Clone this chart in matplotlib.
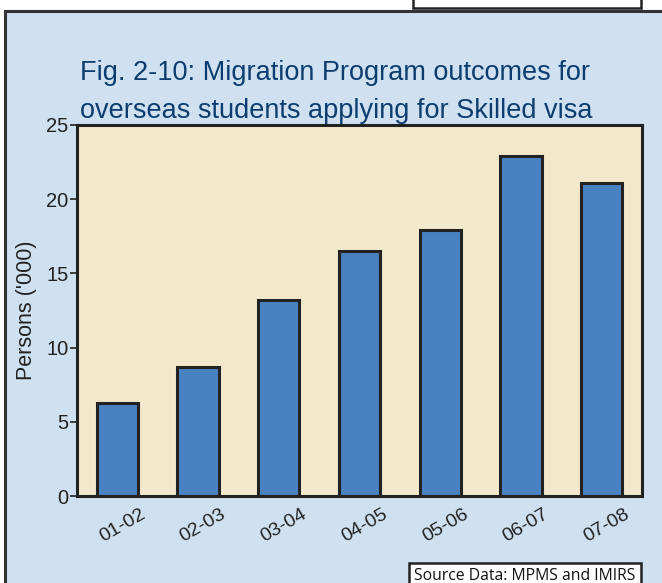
import matplotlib
matplotlib.use("Agg")
import matplotlib.pyplot as plt
import matplotlib.transforms as mtransforms
from matplotlib.patches import Rectangle

plt.rcParams["font.family"] = ["Liberation Sans", "DejaVu Sans"]

years = ["01-02", "02-03", "03-04", "04-05", "05-06", "06-07", "07-08"]
persons = [6.3, 8.7, 13.2, 16.5, 17.9, 22.9, 21.1]
y_ticks = [0, 5, 10, 15, 20, 25]

W, H = 662, 583
PANEL = "#cfe1f1"
PLOT_BG = "#f2e8cb"
BAR = "#4a81c1"
EDGE = "#222222"
TITLE = "#0d3d6e"

fig = plt.figure(figsize=(W / 100, H / 100), dpi=100)
fig.patch.set_facecolor("white")


def fx(px):
    return px / W


def fy(py):
    return 1 - py / H


# blue background panel
fig.patches.append(Rectangle((fx(5), fy(600)), fx(700), fy(11) - fy(600),
                             transform=fig.transFigure, facecolor=PANEL,
                             edgecolor="#333333", linewidth=2.2, zorder=-2))
# box peeking in at the top
fig.patches.append(Rectangle((fx(413), fy(8)), fx(641) - fx(413), 0.1,
                             transform=fig.transFigure, facecolor="white",
                             edgecolor="#222222", linewidth=1.8, zorder=-1))

fig.text(fx(80), fy(73), "Fig. 2-10: Migration Program outcomes for",
         fontsize=19.5, color=TITLE, va="center", ha="left")
fig.text(fx(80), fy(111), "overseas students applying for Skilled visa",
         fontsize=19.5, color=TITLE, va="center", ha="left")

ax = fig.add_axes([fx(77), fy(496), fx(642) - fx(77), fy(125) - fy(496)])
ax.set_zorder(2)
ax.set_facecolor(PLOT_BG)
x = range(len(years))
ax.bar(x, persons, width=0.51, color=BAR, edgecolor=EDGE, linewidth=2.2, zorder=2)
ax.set_xlim(-0.5, len(years) - 0.5)
ax.set_ylim(0, 25)
ax.set_yticks(y_ticks)
ax.set_yticklabels([str(t) for t in y_ticks], fontsize=14.5, color="#222222")
ax.set_xticks(list(x))
ax.set_xticklabels(years, rotation=30, ha="center", fontsize=14, color="#222222")
ax.tick_params(axis="x", length=0, pad=7)
ax.tick_params(axis="y", length=5, width=1.2, color="#222222", pad=1)
# nudge the slanted year labels a little to the right
shift = mtransforms.ScaledTranslation(5 / 100, 0, fig.dpi_scale_trans)
for lab in ax.get_xticklabels():
    lab.set_transform(lab.get_transform() + shift)
for s in ax.spines.values():
    s.set_linewidth(2.2)
    s.set_color(EDGE)
ax.set_ylabel("Persons ('000)", fontsize=15.5, color="#222222", labelpad=7)

fig.text(fx(414), fy(576), "Source Data: MPMS and IMIRS", fontsize=11.3,
         family=["Open Sans", "DejaVu Sans"], color="#111111", ha="left", va="center",
         zorder=3,
         bbox=dict(boxstyle="square,pad=0.35", facecolor="white",
                   edgecolor="#222222", linewidth=1.8))

fig.savefig("out.png", dpi=100, facecolor=fig.get_facecolor())
